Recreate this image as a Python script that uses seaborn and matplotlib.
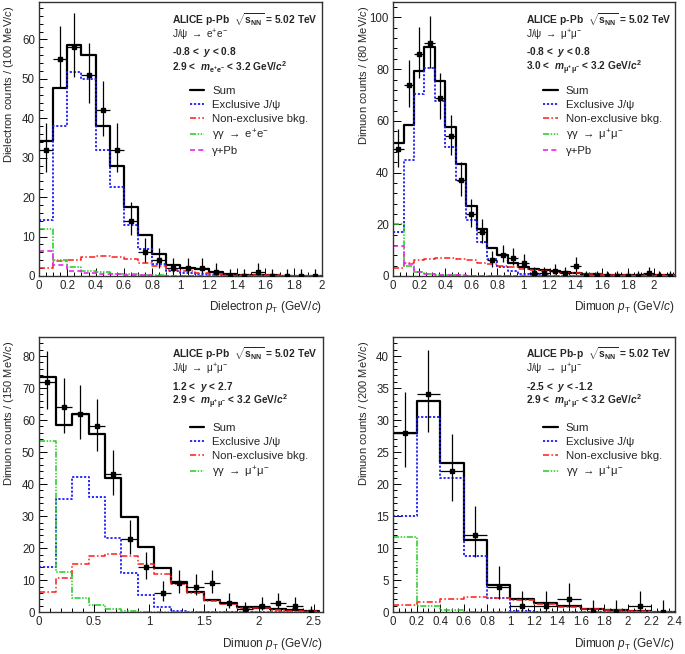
import numpy as np
import pandas as pd
import seaborn as sns
import matplotlib.pyplot as plt
from matplotlib.ticker import MultipleLocator

# panel 1: p-Pb, dielectron, 100 MeV bins
edges1 = np.linspace(0, 2.0, 21)
sum1 = [34.3, 47.8, 58.5, 56.0, 38.0, 28.0, 17.5, 10.3, 5.5, 2.7, 2.1, 1.8, 1.0, 0.5, 0.3, 0.2, 0.15, 0.1, 0.1, 0.05]
excl1 = [14.3, 38.0, 51.8, 50.0, 32.0, 22.6, 13.0, 6.8, 3.0, 1.2, 0.7, 0.4, 0.2, 0.1, 0.05, 0, 0, 0, 0, 0]
nonex1 = [2.0, 3.7, 4.0, 4.8, 5.0, 4.8, 4.2, 3.4, 2.5, 1.6, 1.2, 0.8, 0.5, 0.35, 0.25, 0.2, 0.15, 0.1, 0.1, 0.05]
gg1 = [11.8, 4.0, 2.3, 1.3, 0.9, 0.6, 0.4, 0.2, 0.15, 0.1, 0.05, 0, 0, 0, 0, 0, 0, 0, 0, 0]
gpb1 = [6.3, 2.7, 1.2, 0.8, 0.6, 0.4, 0.3, 0.2, 0.1, 0.05, 0, 0, 0, 0, 0, 0, 0, 0, 0, 0]
data1 = [32, 55, 58, 51, 42, 32, 14, 6, 4, 2, 2, 2, 1, 0, 0, 1, 0, 0, 0, 0]

# panel 2: p-Pb, dimuon central, 80 MeV bins
edges2 = np.linspace(0, 2.16, 28)
sum2 = [51.5, 58.3, 79.3, 88.5, 75.3, 57.5, 43.3, 27.0, 18.0, 11.0, 8.0, 5.0, 3.3, 2.8, 2.3, 1.9, 1.4,
        1.1, 0.8, 0.6, 0.5, 0.4, 0.3, 0.3, 0.2, 0.2, 0.2]
excl2 = [17.0, 45.0, 70.5, 80.3, 67.5, 50.0, 36.8, 21.5, 13.3, 6.5, 3.5, 1.8, 0.8, 0.4, 0.2, 0.1, 0.05,
         0, 0, 0, 0, 0, 0, 0, 0, 0, 0]
nonex2 = [3.0, 5.0, 6.0, 6.5, 7.0, 6.8, 6.4, 6.0, 5.2, 4.6, 4.0, 3.5, 2.8, 2.4, 2.0, 1.7, 1.3, 1.1,
          0.8, 0.6, 0.5, 0.4, 0.3, 0.3, 0.2, 0.2, 0.2]
gg2 = [20.0, 4.0, 1.5, 0.8, 0.5, 0.3, 0.2, 0.1, 0, 0, 0, 0, 0, 0, 0, 0, 0, 0, 0, 0, 0, 0, 0, 0, 0, 0, 0]
gpb2 = [11.5, 4.8, 1.5, 0.8, 0.5, 0.3, 0.2, 0.1, 0, 0, 0, 0, 0, 0, 0, 0, 0, 0, 0, 0, 0, 0, 0, 0, 0, 0, 0]
data2 = [49, 74, 86, 90, 69, 54, 37, 24, 17, 6, 8, 7, 5, 1, 1, 2, 1, 4, 0, 0, 0, 0, 0, 0, 1, 0, 0]

# panel 3: p-Pb, dimuon forward, 150 MeV bins
edges3 = np.linspace(0, 2.55, 18)
sum3 = [73.5, 58.3, 61.8, 55.6, 42.0, 29.6, 20.3, 13.7, 9.3, 6.4, 3.8, 3.0, 1.5, 1.3, 0.9, 0.6, 0.4]
excl3 = [14.0, 35.3, 42.2, 36.0, 23.2, 12.3, 5.3, 1.6, 0.5, 0.2, 0.1, 0, 0, 0, 0, 0, 0]
nonex3 = [6.2, 10.8, 15.0, 17.6, 18.2, 17.5, 15.0, 12.0, 8.8, 6.0, 3.6, 2.6, 1.2, 1.2, 0.8, 0.5, 0.3]
gg3 = [53.5, 12.5, 4.3, 2.1, 1.0, 0.5, 0.2, 0.1, 0.05, 0, 0, 0, 0, 0, 0, 0, 0]
data3 = [72, 64, 62, 58, 43, 23, 14, 6, 9, 8, 9, 3, 1, 2, 3, 2, 0]

# panel 4: Pb-p, dimuon backward, 200 MeV bins
edges4 = np.linspace(0, 2.4, 13)
sum4 = [28.0, 33.0, 23.3, 11.2, 4.3, 2.1, 1.5, 1.0, 0.5, 0.3, 0.2, 0.1]
excl4 = [15.0, 30.5, 21.0, 8.8, 2.2, 0.2, 0.05, 0, 0, 0, 0, 0]
nonex4 = [1.1, 1.6, 2.0, 2.3, 2.2, 1.9, 1.3, 0.8, 0.5, 0.3, 0.2, 0.1]
gg4 = [11.8, 0.9, 0.3, 0.1, 0.05, 0, 0, 0, 0, 0, 0, 0]
data4 = [28, 34, 22, 12, 4, 1, 1, 2, 0, 0, 1, 0]

sns.set_theme(style="ticks")
plt.rcParams['font.family'] = ['Liberation Sans', 'DejaVu Sans']
plt.rcParams['mathtext.fontset'] = 'custom'
plt.rcParams['mathtext.rm'] = 'Liberation Sans'
plt.rcParams['mathtext.it'] = 'Liberation Sans:italic'
plt.rcParams['mathtext.bf'] = 'Liberation Sans:bold'
plt.rcParams['mathtext.bfit'] = 'Liberation Sans:bold:italic'


def garwood(n):
    # approximate 68% Poisson interval for the observed counts
    n = np.asarray(n, dtype=float)
    up = (n + 1) * (1 - 1 / (9 * (n + 1)) + 1 / (3 * np.sqrt(n + 1))) ** 3 - n
    lo = np.zeros_like(n)
    m = n > 0
    lo[m] = n[m] - n[m] * (1 - 1 / (9 * n[m]) - 1 / (3 * np.sqrt(n[m]))) ** 3
    return lo, up


def draw(ax, edges, comps, data, decay, ylab, xlab, header, yrange, mass, ylim, xmax, ymaj, ymin, xmaj, xmin,
         top=True):
    centers = 0.5 * (edges[1:] + edges[:-1])
    styles = [
        ("Sum", "black", "-", 1.6),
        ("Exclusive J/ψ", "#1a1aff", (0, (1.2, 1.0)), 1.3),
        ("Non-exclusive bkg.", "#ff1a1a", (0, (4, 1.5, 1, 1.5)), 1.1),
        (r"γγ $\rightarrow$ " + decay, "#22cc22", (0, (4, 1, 1, 1, 1, 1)), 1.1),
        ("γ+Pb", "#ee22ee", (0, (3, 2)), 1.2),
    ]
    for vals, (lab, col, ls, lw) in zip(comps, styles):
        df = pd.DataFrame({"pt": centers, "w": vals})
        sns.histplot(data=df, x="pt", weights="w", bins=list(edges), element="step", fill=False,
                     color=col, linestyle=ls, linewidth=lw, label=lab, ax=ax)
    lo, up = garwood(data)
    ax.errorbar(centers, data, yerr=[lo, up], xerr=0.5 * (edges[1] - edges[0]), fmt='s',
                color='black', ms=2.8, elinewidth=0.9, capsize=0, zorder=5)
    ax.set_xlim(0, xmax)
    ax.set_ylim(0, ylim)
    ax.xaxis.set_major_locator(MultipleLocator(xmaj))
    ax.xaxis.set_minor_locator(MultipleLocator(xmin))
    ax.yaxis.set_major_locator(MultipleLocator(ymaj))
    ax.yaxis.set_minor_locator(MultipleLocator(ymin))
    ax.xaxis.set_major_formatter(plt.FuncFormatter(lambda v, p: f"{v:g}"))
    ax.tick_params(which='both', direction='in', top=False, right=False, labelsize=8.3, width=0.7, color='black')
    ax.tick_params(which='major', length=6, pad=3)
    ax.tick_params(which='minor', length=3)
    for s in ax.spines.values():
        s.set_linewidth(1.0)
        s.set_color('#333333')
    ax.set_ylabel(ylab, loc='top', fontsize=8)
    ax.yaxis.set_label_coords(-0.08, 0.985)
    ax.set_xlabel(xlab, loc='right', fontsize=8.5)
    ax.xaxis.set_label_coords(1.0, -0.085)
    tx = 0.47
    ys = [0.92, 0.866, 0.806, 0.749] if top else [0.922, 0.869, 0.808, 0.752]
    ax.text(tx, ys[0], header, transform=ax.transAxes, fontsize=7.4, fontweight='bold', va='baseline')
    ax.text(tx, ys[1], "J/ψ " + r"$\rightarrow$ " + decay, transform=ax.transAxes, fontsize=7.3, va='baseline')
    ax.text(tx, ys[2], yrange, transform=ax.transAxes, fontsize=7.3, fontweight='bold', va='baseline')
    ax.text(tx, ys[3], mass, transform=ax.transAxes, fontsize=7.3, fontweight='bold', va='baseline')
    ax.legend(loc='upper left', bbox_to_anchor=(0.517, 0.71 if top else 0.703), frameon=False, fontsize=8.2,
              handlelength=1.25, handletextpad=0.7, labelspacing=0.33, borderaxespad=0)


fig = plt.figure(figsize=(6.85, 6.54), dpi=100)
ax1 = fig.add_axes([0.057, 0.578, 0.413, 0.419])
ax2 = fig.add_axes([0.574, 0.578, 0.411, 0.419])
ax3 = fig.add_axes([0.057, 0.064, 0.414, 0.421])
ax4 = fig.add_axes([0.574, 0.064, 0.411, 0.421])

sqrts = r"$\mathbf{\sqrt{s_{NN}}}$ = 5.02 TeV"
mm = r"$\mathbfit{m}_{\mathbf{\mu^{+}\mu^{-}}}$"

draw(ax1, edges1, [sum1, excl1, nonex1, gg1, gpb1], data1, r"e$^{+}$e$^{-}$",
     r"Dielectron counts / (100 MeV/$c$)", r"Dielectron $p_{\rm T}$ (GeV/$c$)",
     "ALICE p-Pb  " + sqrts, r"-0.8 <  $\mathbfit{y}$ < 0.8",
     r"2.9 <  $\mathbfit{m}_{\mathbf{e^{+}e^{-}}}$ < 3.2 GeV/$\mathbfit{c}^{\mathbf{2}}$",
     69.5, 2.0, 10, 2, 0.2, 0.05)
draw(ax2, edges2, [sum2, excl2, nonex2, gg2, gpb2], data2, r"μ$^{+}$μ$^{-}$",
     r"Dimuon counts / (80 MeV/$c$)", r"Dimuon $p_{\rm T}$ (GeV/$c$)",
     "ALICE p-Pb  " + sqrts, r"-0.8 <  $\mathbfit{y}$ < 0.8",
     r"3.0 <  " + mm + r" < 3.2 GeV/$\mathbfit{c}^{\mathbf{2}}$",
     106, 2.16, 20, 4, 0.2, 0.05)
draw(ax3, edges3, [sum3, excl3, nonex3, gg3], data3, r"μ$^{+}$μ$^{-}$",
     r"Dimuon counts / (150 MeV/$c$)", r"Dimuon $p_{\rm T}$ (GeV/$c$)",
     "ALICE p-Pb  " + sqrts, r"1.2 <  $\mathbfit{y}$ < 2.7",
     r"2.9 <  " + mm + r" < 3.2 GeV/$\mathbfit{c}^{\mathbf{2}}$",
     86, 2.58, 10, 2, 0.5, 0.1, top=False)
draw(ax4, edges4, [sum4, excl4, nonex4, gg4], data4, r"μ$^{+}$μ$^{-}$",
     r"Dimuon counts / (200 MeV/$c$)", r"Dimuon $p_{\rm T}$ (GeV/$c$)",
     "ALICE Pb-p  " + sqrts, r"-2.5 <  $\mathbfit{y}$ < -1.2",
     r"2.9 <  " + mm + r" < 3.2 GeV/$\mathbfit{c}^{\mathbf{2}}$",
     43, 2.4, 5, 1, 0.2, 0.05, top=False)

fig.savefig("out.png", dpi=100, facecolor='white')
